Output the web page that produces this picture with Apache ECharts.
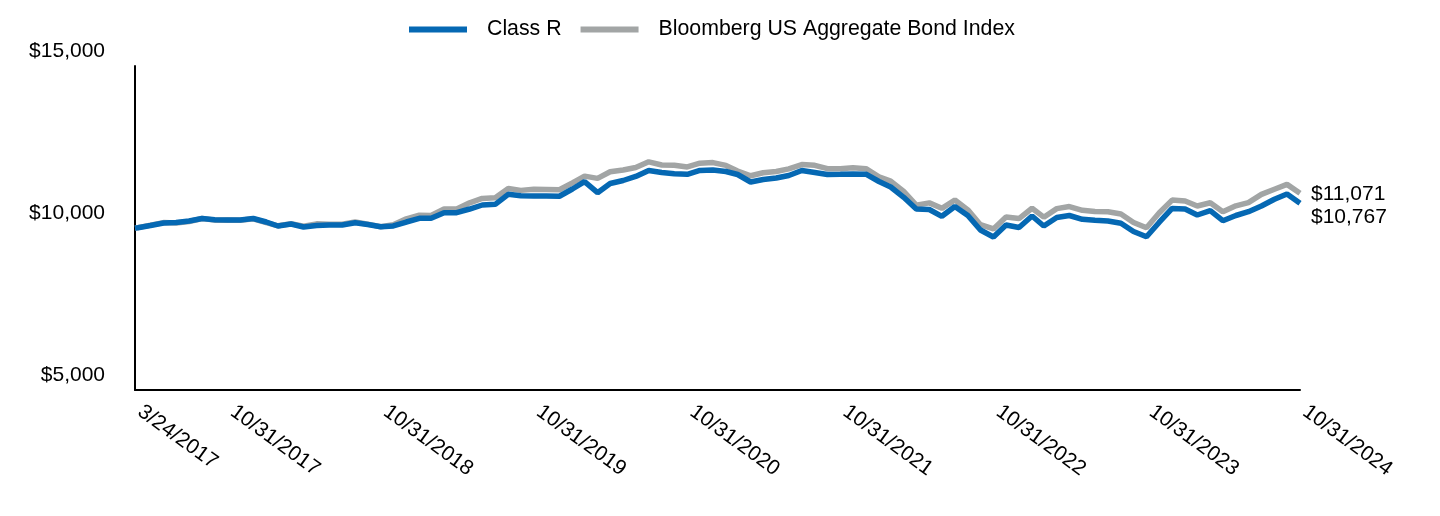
<!DOCTYPE html>
<html>
<head>
<meta charset="utf-8">
<script src="https://cdn.jsdelivr.net/npm/echarts@6/dist/echarts.min.js"></script>
<style>html,body{margin:0;padding:0;background:#fff}#c{width:1440px;height:516px}</style>
</head>
<body>
<div id="c"></div>
<script>
const dates = [
'2017-03-24','2017-03-31','2017-04-30','2017-05-31','2017-06-30','2017-07-31','2017-08-31','2017-09-30','2017-10-31','2017-11-30','2017-12-31',
'2018-01-31','2018-02-28','2018-03-31','2018-04-30','2018-05-31','2018-06-30','2018-07-31','2018-08-31','2018-09-30','2018-10-31','2018-11-30','2018-12-31',
'2019-01-31','2019-02-28','2019-03-31','2019-04-30','2019-05-31','2019-06-30','2019-07-31','2019-08-31','2019-09-30','2019-10-31','2019-11-30','2019-12-31',
'2020-01-31','2020-02-29','2020-03-31','2020-04-30','2020-05-31','2020-06-30','2020-07-31','2020-08-31','2020-09-30','2020-10-31','2020-11-30','2020-12-31',
'2021-01-31','2021-02-28','2021-03-31','2021-04-30','2021-05-31','2021-06-30','2021-07-31','2021-08-31','2021-09-30','2021-10-31','2021-11-30','2021-12-31',
'2022-01-31','2022-02-28','2022-03-31','2022-04-30','2022-05-31','2022-06-30','2022-07-31','2022-08-31','2022-09-30','2022-10-31','2022-11-30','2022-12-31',
'2023-01-31','2023-02-28','2023-03-31','2023-04-30','2023-05-31','2023-06-30','2023-07-31','2023-08-31','2023-09-30','2023-10-31','2023-11-30','2023-12-31',
'2024-01-31','2024-02-29','2024-03-31','2024-04-30','2024-05-31','2024-06-30','2024-07-31','2024-08-31','2024-09-30','2024-10-31'
];
const classR = [
10000,10010,10077,10154,10170,10216,10293,10253,10247,10247,10293,
10185,10062,10123,10031,10077,10093,10093,10164,10108,10040,10062,10185,
10299,10299,10472,10472,10586,10710,10731,11040,10998,10988,10988,10980,
11204,11429,11090,11373,11466,11590,11775,11713,11673,11657,11775,11790,
11744,11651,11420,11497,11543,11620,11775,11713,11651,11657,11666,11660,
11435,11265,10947,10586,10571,10361,10664,10386,9938,9722,10093,10015,
10370,10062,10324,10386,10268,10238,10216,10148,9892,9731,10170,10602,
10586,10401,10534,10225,10386,10503,10679,10886,11049,10767
];
const bloomberg = [
10000,10011,10088,10166,10156,10200,10292,10243,10249,10236,10283,
10165,10068,10132,10057,10128,10116,10118,10183,10118,10038,10098,10284,
10393,10387,10586,10589,10777,10913,10937,11220,11161,11194,11188,11180,
11395,11600,11532,11737,11792,11866,12043,11945,11939,11885,12001,12018,
11931,11759,11612,11704,11743,11825,11957,11934,11830,11826,11862,11831,
11577,11447,11129,10707,10776,10607,10866,10559,10103,9972,10339,10292,
10609,10334,10597,10662,10546,10508,10501,10434,10169,10008,10461,10862,
10833,10680,10778,10505,10684,10785,11037,11196,11346,11071
];
const tickDates = ['2017-03-24','2017-10-31','2018-10-31','2019-10-31','2020-10-31','2021-10-31','2022-10-31','2023-10-31','2024-10-31'];
const yTicks = [5000, 10000, 15000];
const seriesNames = ['Class R', 'Bloomberg US Aggregate Bond Index'];

function ts(s){ const p = s.split('-').map(Number); return Date.UTC(p[0], p[1]-1, p[2]); }
function fmtDate(v){ const d = new Date(v); return (d.getUTCMonth()+1) + '/' + d.getUTCDate() + '/' + d.getUTCFullYear(); }
function money(v){ return '$' + Math.round(v).toLocaleString('en-US'); }

const FONT = 'Liberation Sans, Arial, sans-serif';
const BLUE = '#0568b3';
const GRAY = '#a2a5a5';

const chart = echarts.init(document.getElementById('c'), null, {renderer: 'canvas'});
chart.setOption({
  animation: false,
  backgroundColor: '#fff',
  textStyle: {fontFamily: FONT},
  legend: {
    top: 14, left: 404,
    icon: 'rect', itemWidth: 58, itemHeight: 6, itemGap: 19,
    textStyle: {fontFamily: FONT, fontSize: 21.3, color: '#000', padding: [0,0,0,15]},
    data: [seriesNames[0], seriesNames[1]]
  },
  grid: {left: 135, right: 140, top: 66, bottom: 126, containLabel: false},
  xAxis: {
    type: 'value',
    min: ts(tickDates[0]), max: ts(tickDates[tickDates.length-1]),
    axisLine: {show: true, lineStyle: {color: '#000', width: 2}},
    axisTick: {show: false},
    splitLine: {show: false},
    axisLabel: {
      customValues: tickDates.map(ts),
      formatter: v => fmtDate(v),
      rotate: -36, margin: 16, padding: [0,0,0,6],
      fontFamily: FONT, fontSize: 21, color: '#000'
    }
  },
  yAxis: {
    type: 'value', min: yTicks[0], max: yTicks[yTicks.length-1], interval: 5000,
    axisLine: {show: true, lineStyle: {color: '#000', width: 2}},
    axisTick: {show: false},
    splitLine: {show: false},
    axisLabel: {
      formatter: v => money(v), margin: 30,
      fontFamily: FONT, fontSize: 21, color: '#000',
      verticalAlign: 'bottom', lineHeight: 30
    }
  },
  series: [
    {
      name: seriesNames[1], type: 'line', symbol: 'none', z: 2,
      data: dates.map((d,i) => [ts(d), bloomberg[i]]),
      lineStyle: {color: GRAY, width: 5.5}, itemStyle: {color: GRAY},
      endLabel: {show: true, formatter: p => money(p.value[1]), distance: 11, offset: [0, 1],
        fontFamily: FONT, fontSize: 21, color: '#000'}
    },
    {
      name: seriesNames[0], type: 'line', symbol: 'none', z: 3,
      data: dates.map((d,i) => [ts(d), classR[i]]),
      lineStyle: {color: BLUE, width: 5.5}, itemStyle: {color: BLUE},
      endLabel: {show: true, formatter: p => money(p.value[1]), distance: 11, offset: [0, 14],
        fontFamily: FONT, fontSize: 21, color: '#000'}
    }
  ]
});
</script>
</body>
</html>
